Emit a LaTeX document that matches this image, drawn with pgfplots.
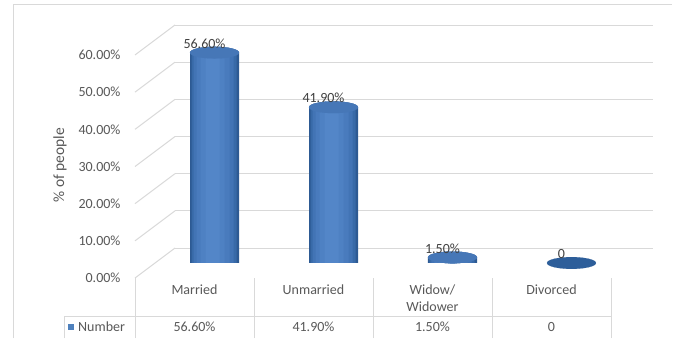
\documentclass[border=0pt]{standalone}
\usepackage{pgfplots}
\usepackage{pgfplotstable}
\pgfplotsset{compat=1.18}
\usepackage{fontspec}
\setmainfont{Carlito}
\definecolor{gridc}{HTML}{D9D9D9}
\definecolor{txt}{HTML}{595959}
\definecolor{lbl}{HTML}{404040}
\definecolor{cA}{HTML}{2D5A93}
\definecolor{cB}{HTML}{386AA8}
\definecolor{cC}{HTML}{4274B5}
\definecolor{cD}{HTML}{497BBD}
\definecolor{cE}{HTML}{4E81C3}
\definecolor{cF}{HTML}{5386C8}
\definecolor{cylTop}{HTML}{4677B7}
\definecolor{cylBot}{HTML}{3B6BA8}
\definecolor{cylDark}{HTML}{2D5E9A}
\definecolor{legblue}{HTML}{4F81BD}
\pgfplotstableread{
x y
0 56.6
1 41.9
2 1.5
}\bars
\pgfplotsset{cylaxis/.style={at={(155pt,75pt)}, anchor=south west, scale only axis,
  width=476pt, height=223pt,
  xmin=-0.5, xmax=3.5, ymin=0, ymax=60, hide axis, clip=false}}
\begin{document}
\begin{tikzpicture}[font=\fontsize{14}{17}\selectfont]
\useasboundingbox (0,0) rectangle (681pt,338pt);
\fill[white] (0,0) rectangle (681pt,338pt);
% outer frame
\draw[gridc, line width=1pt] (13pt,0) -- (13pt,333pt) -- (672pt,333pt);
% back wall gridlines
\begin{axis}[at={(175pt,90pt)}, anchor=south west, scale only axis,
  width=478pt, height=223pt,
  xmin=0, xmax=1, ymin=0, ymax=60,
  ytick={0,10,...,60}, yticklabels={}, xtick=\empty,
  axis line style={draw=none}, major tick length=0pt,
  ymajorgrids, grid style={gridc, line width=1pt}]
\end{axis}
% side wall gridlines
\foreach \i in {0,...,6}
  \draw[gridc, line width=1pt] (135pt,{60pt+\i*37.1667pt}) -- ++(40pt,30pt);
% data table lines
\draw[gridc, line width=1pt] (64pt,22pt) -- (611pt,22pt);
\draw[gridc, line width=1pt] (64pt,0pt) -- (64pt,22pt);
\foreach \x in {135,254,373,492,611}
  \draw[gridc, line width=1pt] (\x pt,0pt) -- (\x pt,60pt);
% front axis: ticks and category labels
\begin{axis}[at={(135pt,60pt)}, anchor=south west, scale only axis,
  width=476pt, height=223pt,
  xmin=-0.5, xmax=3.5, ymin=0, ymax=60,
  ytick={0,10,...,60},
  yticklabels={0.00\%,10.00\%,20.00\%,30.00\%,40.00\%,50.00\%,60.00\%},
  xtick={0,1,2,3},
  xticklabels={Married,Unmarried,{Widow/\\Widower},Divorced},
  xticklabel style={align=center, yshift=-3pt, text=txt},
  yticklabel style={xshift=-11pt, text=txt},
  axis line style={draw=none}, major tick length=0pt]
\end{axis}
\node[rotate=90, text=txt, font=\fontsize{15.5}{18}\selectfont] at (60pt,173pt) {\% of people};
% cylinder bottoms
\begin{axis}[cylaxis]
\addplot[only marks, mark=*, mark size=24.5pt,
  mark options={yscale=0.24, fill=cylBot, draw=cylBot, line width=0.1pt}]
  table {\bars};
\end{axis}
% cylinder bodies (layered for a round look)
\begin{axis}[cylaxis]
\addplot[ybar, bar width=49pt, bar shift=0pt, fill=cA, draw=none] table {\bars};
\addplot[ybar, bar width=45pt, bar shift=-0.5pt, fill=cB, draw=none] table {\bars};
\addplot[ybar, bar width=40pt, bar shift=-1pt, fill=cC, draw=none] table {\bars};
\addplot[ybar, bar width=33pt, bar shift=-1.5pt, fill=cD, draw=none] table {\bars};
\addplot[ybar, bar width=24pt, bar shift=-2pt, fill=cE, draw=none] table {\bars};
\addplot[ybar, bar width=14pt, bar shift=-2pt, fill=cF, draw=none] table {\bars};
\end{axis}
% cylinder tops and labels
\begin{axis}[cylaxis]
\addplot[only marks, mark=*, mark size=24.5pt,
  mark options={yscale=0.24, fill=cylDark, draw=cylDark, line width=0.1pt}]
  coordinates {(3,0)};
\addplot[only marks, mark=*, mark size=24.5pt,
  mark options={yscale=0.24, fill=cylTop, draw=cylTop, line width=0.1pt}]
  table {\bars};
\end{axis}
\begin{axis}[cylaxis]
\addplot[only marks, mark=none,
  point meta=explicit symbolic, nodes near coords,
  every node near coord/.append style={anchor=center, xshift=-10pt, yshift=9pt, text=lbl}]
  coordinates {(0,56.6) [56.60\%] (1,41.9) [41.90\%] (2,1.5) [1.50\%] (3,0) [0]};
\end{axis}
% data table row
\fill[legblue] (68pt,8pt) rectangle (74pt,14pt);
\node[anchor=west, text=txt, inner sep=0pt] at (78pt,11pt) {Number};
\node[text=txt] at (194.5pt,11pt) {56.60\%};
\node[text=txt] at (313.5pt,11pt) {41.90\%};
\node[text=txt] at (432.5pt,11pt) {1.50\%};
\node[text=txt] at (551.5pt,11pt) {0};
\end{tikzpicture}
\end{document}
